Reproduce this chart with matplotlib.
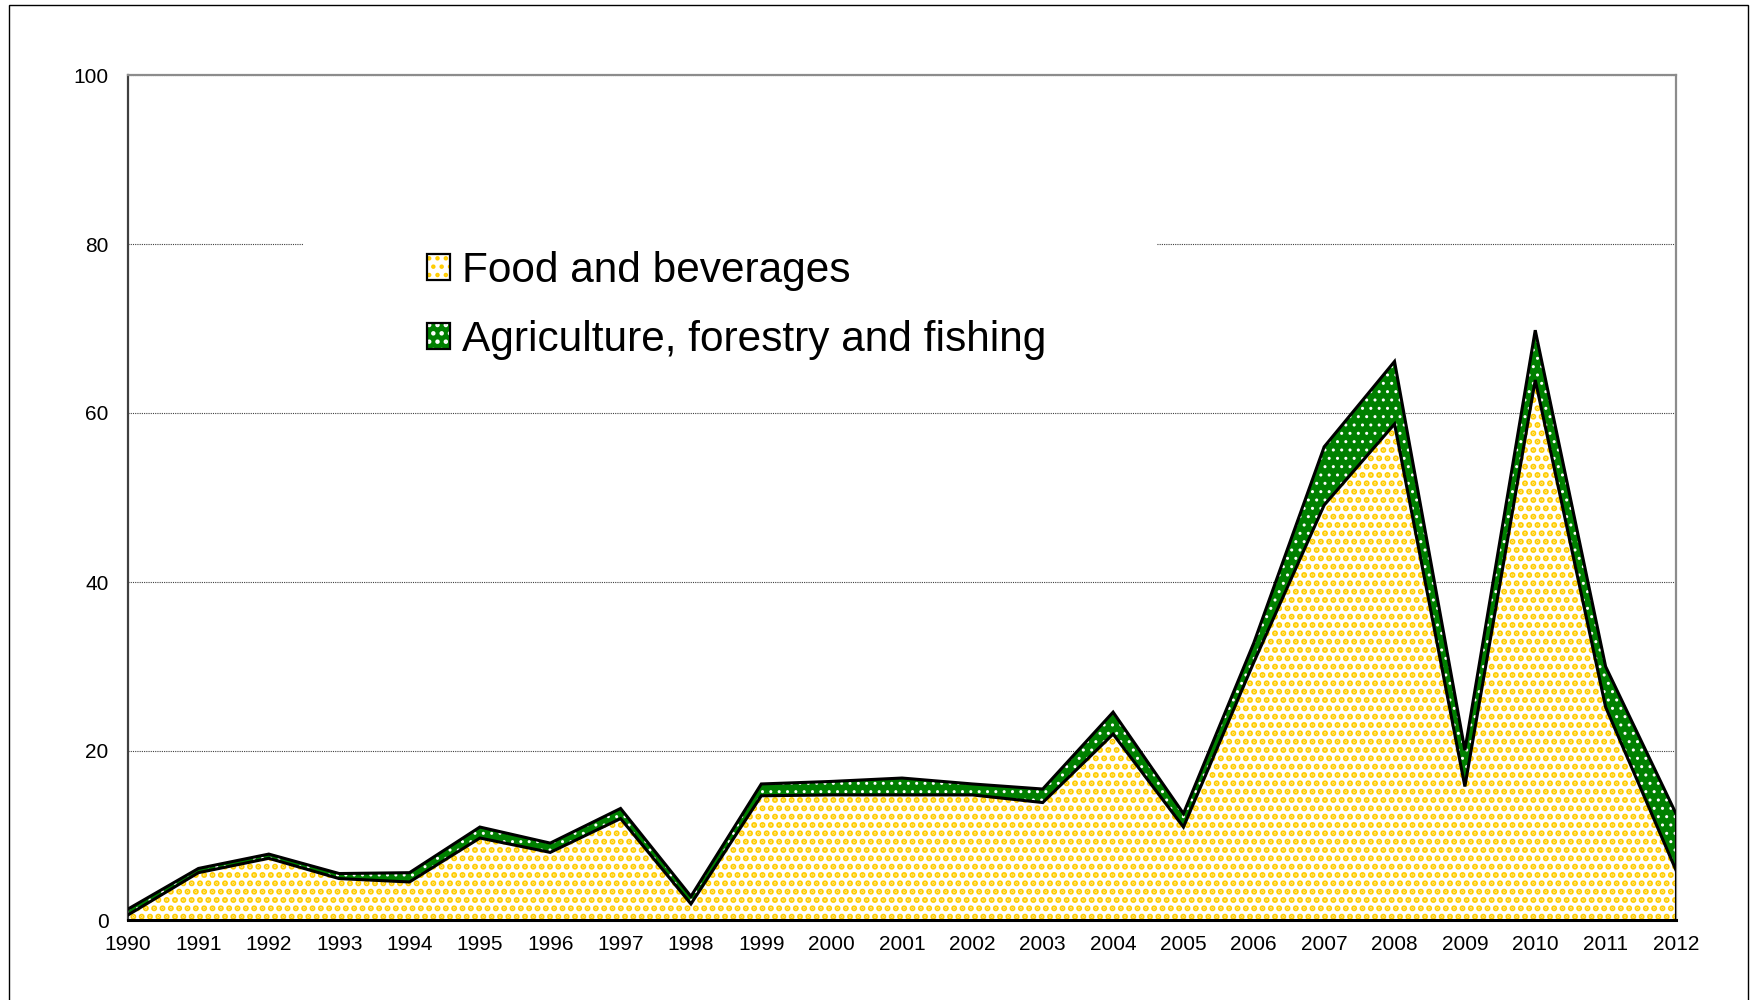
import numpy as np
import matplotlib
matplotlib.use("Agg")
import matplotlib.pyplot as plt
from matplotlib.patches import Patch, Rectangle
from matplotlib.legend_handler import HandlerTuple

plt.rcParams['font.family'] = ['Liberation Sans', 'DejaVu Sans']
plt.rcParams['hatch.linewidth'] = 2.0

# data
years = list(range(1990, 2013))
food = [0.6, 5.6, 7.3, 4.9, 4.5, 9.7, 8.0, 12.0, 1.9, 14.7, 14.8, 14.8, 14.8,
        13.9, 22.0, 11.0, 30.5, 49.1, 58.7, 15.8, 63.9, 25.2, 5.9]
total = [1.3, 6.1, 7.8, 5.5, 5.6, 11.0, 9.1, 13.2, 2.8, 16.1, 16.4, 16.8, 16.1,
         15.5, 24.6, 12.6, 32.8, 56.0, 66.1, 20.1, 69.8, 30.0, 12.6]
agri = [t - f for t, f in zip(total, food)]
labels = ['Food and beverages', 'Agriculture, forestry and fishing']
yticks = [0, 20, 40, 60, 80, 100]

gold = '#FFCC00'
green = '#008000'


def hatch_lw(artist, lw):
    # per-artist hatch width where matplotlib supports it
    if hasattr(artist, 'set_hatch_linewidth'):
        artist.set_hatch_linewidth(lw)
    return artist


fig = plt.figure(figsize=(17.52, 10), dpi=100)
ax = fig.add_axes([0.0731, 0.08, 0.8835, 0.845])

x = np.array(years)
food_arr = np.array(food)
top_arr = food_arr + np.array(agri)

# stacked areas with dot patterns
f1 = ax.fill_between(x, 0, food_arr, facecolor='white', edgecolor=gold,
                     hatch='..', linewidth=0, zorder=2)
hatch_lw(f1, 3.0)
f2 = ax.fill_between(x, food_arr, top_arr, facecolor=green, edgecolor='white',
                     hatch='..', linewidth=0, zorder=2)
hatch_lw(f2, 1.0)
ax.plot(x, food_arr, color='black', lw=2.2, zorder=3, solid_joinstyle='miter')
ax.plot(x, top_arr, color='black', lw=2.2, zorder=3, solid_joinstyle='miter')
ax.plot([x[-1], x[-1]], [0, top_arr[-1]], color='black', lw=2.2, zorder=3)

ax.set_xlim(years[0], years[-1])
ax.set_ylim(0, 100)
ax.set_xticks(years)
ax.set_xticklabels([str(y) for y in years])
ax.set_yticks(yticks)
ax.tick_params(axis='both', length=0, labelsize=15)
ax.tick_params(axis='x', pad=11)
ax.tick_params(axis='y', pad=14)

ax.set_axisbelow(True)
ax.yaxis.grid(True, linestyle=(0, (1, 1)), color='#404040', lw=0.8)
ax.xaxis.grid(False)

ax.spines['top'].set_color('#8c8c8c')
ax.spines['right'].set_color('#8c8c8c')
ax.spines['top'].set_linewidth(1.6)
ax.spines['right'].set_linewidth(1.6)
ax.spines['left'].set_color('#404040')
ax.spines['left'].set_linewidth(1.6)
ax.spines['bottom'].set_color('black')
ax.spines['bottom'].set_linewidth(2.2)
ax.spines['bottom'].set_zorder(4)

# white backdrop behind legend (hides gridline)
ax.add_patch(Rectangle((0.1137, 0.651), 0.551, 0.183, transform=ax.transAxes,
                       facecolor='white', edgecolor='none', zorder=1))

h_food = hatch_lw(Patch(facecolor='white', edgecolor=gold, hatch='..',
                        linewidth=0), 3.0)
h_agri = hatch_lw(Patch(facecolor=green, edgecolor='white', hatch='..',
                        linewidth=0), 1.0)
h_box = Patch(facecolor='none', edgecolor='black', linewidth=1.6)
leg = fig.legend([(h_food, h_box), (h_agri, h_box)], labels, loc='upper left',
                 bbox_to_anchor=(0.2435, 0.749), frameon=False,
                 fontsize=30.5, handlelength=0.55, handleheight=0.55,
                 handletextpad=0.28, labelspacing=0.68, borderpad=0,
                 borderaxespad=0,
                 handler_map={tuple: HandlerTuple(ndivide=1, pad=0)})

# outer frame
fig.patches.append(Rectangle((9 / 1752, -0.01), (1748 - 9) / 1752, 1.005,
                             transform=fig.transFigure, fill=False,
                             edgecolor='black', lw=1.0))

fig.savefig('out.png', dpi=100, facecolor='white')
